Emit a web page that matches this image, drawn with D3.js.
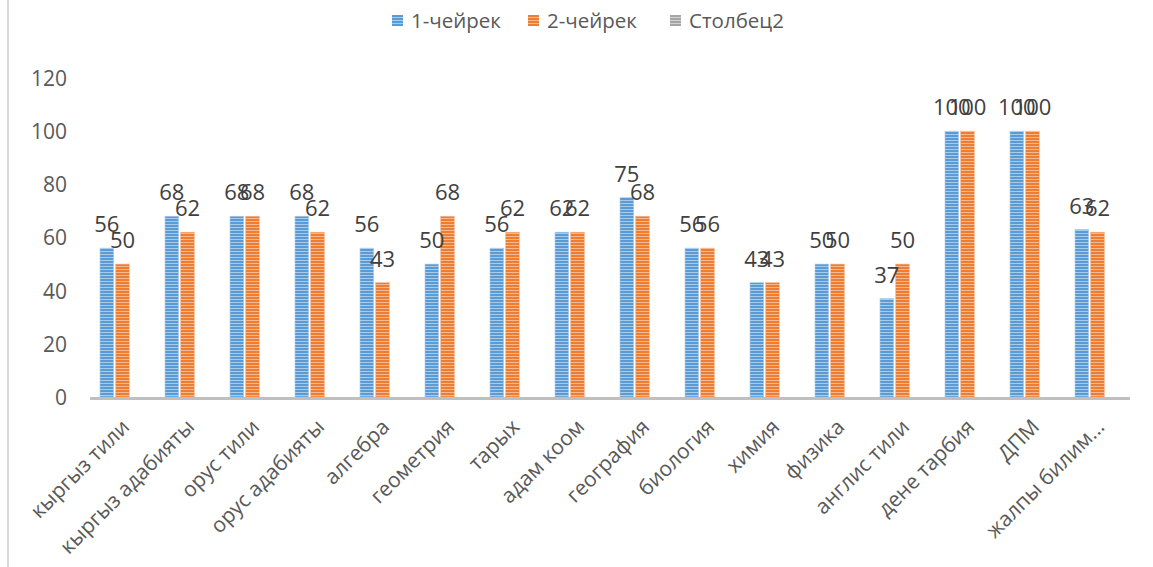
<!DOCTYPE html>
<html><head><meta charset="utf-8">
<script src="https://cdn.jsdelivr.net/npm/d3@7/dist/d3.min.js"></script>
<style>body{margin:0;background:#fff;}svg{display:block;font-family:"Open Sans",sans-serif;}</style>
</head><body>
<script>
const categories = ["кыргыз тили","кыргыз адабияты","орус тили","орус адабияты","алгебра","геометрия","тарых","адам коом","география","биология","химия","физика","англис тили","дене тарбия","ДПМ","жалпы билим..."];
const series1 = [56,68,68,68,56,50,56,62,75,56,43,50,37,100,100,63];
const series2 = [50,62,68,62,43,68,62,62,68,56,43,50,50,100,100,62];
const series3 = categories.map(() => null);
const seriesNames = ["1-чейрек","2-чейрек","Столбец2"];
const yTicks = [0,20,40,60,80,100,120];

const W = 1153, H = 567;
const colors = ["#5B9BD5","#ED7D31","#A5A5A5"];
const light = ["#a9cbea","#f5b892","#d2d2d2"];

const svg = d3.select("body").append("svg").attr("width",W).attr("height",H);
const defs = svg.append("defs");
colors.forEach((c,i)=>{
  const p = defs.append("pattern").attr("id","pat"+i).attr("patternUnits","userSpaceOnUse")
    .attr("width",4).attr("height",3);
  p.append("rect").attr("width",4).attr("height",3).attr("fill",c);
  p.append("rect").attr("y",2).attr("width",4).attr("height",1).attr("fill",light[i]);
});

// left border
svg.append("line").attr("x1",8).attr("x2",8).attr("y1",0).attr("y2",H).attr("stroke","#d9d9d9").attr("stroke-width",2);

const x = d3.scaleBand().domain(categories).range([90,1130]);
const y = d3.scaleLinear().domain([0,120]).range([397,78]);
const data = [series1, series2, series3];
const xs = d3.scaleBand().domain([0,1,2]).range([-22.5,22.5]).paddingInner(0.13);

// y ticks labels
const yAxis = d3.axisLeft(y).tickValues(yTicks).tickSize(0).tickPadding(0);
const gy = svg.append("g").attr("transform","translate(67,0)").call(yAxis);
gy.select(".domain").remove();
gy.selectAll("text").attr("font-size",21).attr("fill","#595959").attr("font-family","Open Sans").attr("dy","0.35em");

// bars
data.forEach((s,i)=>{
  const g = svg.append("g");
  categories.forEach((c,j)=>{
    const v = s[j];
    if (v == null) return;
    const bx = x(c) + x.bandwidth()/2 + xs(i);
    g.append("rect").attr("x",bx).attr("y",y(v)).attr("width",xs.bandwidth()).attr("height",y(0)-y(v))
      .attr("fill","url(#pat"+i+")").attr("stroke",light[i]).attr("stroke-width",0.6);
  });
});

// x axis line
svg.append("line").attr("x1",90).attr("x2",1130).attr("y1",398.5).attr("y2",398.5).attr("stroke","#bfbfbf").attr("stroke-width",3);

// data labels
data.forEach((s,i)=>{
  categories.forEach((c,j)=>{
    const v = s[j];
    if (v == null) return;
    const cx = x(c) + x.bandwidth()/2 + xs(i) + xs.bandwidth()/2;
    svg.append("text").attr("x",cx).attr("y",y(v)-16).attr("text-anchor","middle")
      .attr("font-size",22).attr("fill","#404040").text(v);
  });
});

// category labels
const xAxis = d3.axisBottom(x).tickSize(0).tickPadding(0);
const gx = svg.append("g").call(xAxis);
gx.select(".domain").remove();
gx.selectAll(".tick").attr("transform", d => `translate(${x(d)+x.bandwidth()/2+3},423)`);
gx.selectAll("text").attr("font-size",21).attr("fill","#595959").attr("font-family","Open Sans")
  .attr("text-anchor","end").attr("transform","rotate(-45)").attr("x",0).attr("y",0).attr("dy","0.35em");

// legend
const legX = [392, 528, 670];
seriesNames.forEach((n,i)=>{
  svg.append("rect").attr("x",legX[i]).attr("y",15).attr("width",11).attr("height",11).attr("fill","url(#pat"+i+")");
  svg.append("text").attr("x",legX[i]+19).attr("y",21).attr("dy","0.35em").attr("font-size",20.5).attr("fill","#595959").text(n);
});
</script>
</body></html>
